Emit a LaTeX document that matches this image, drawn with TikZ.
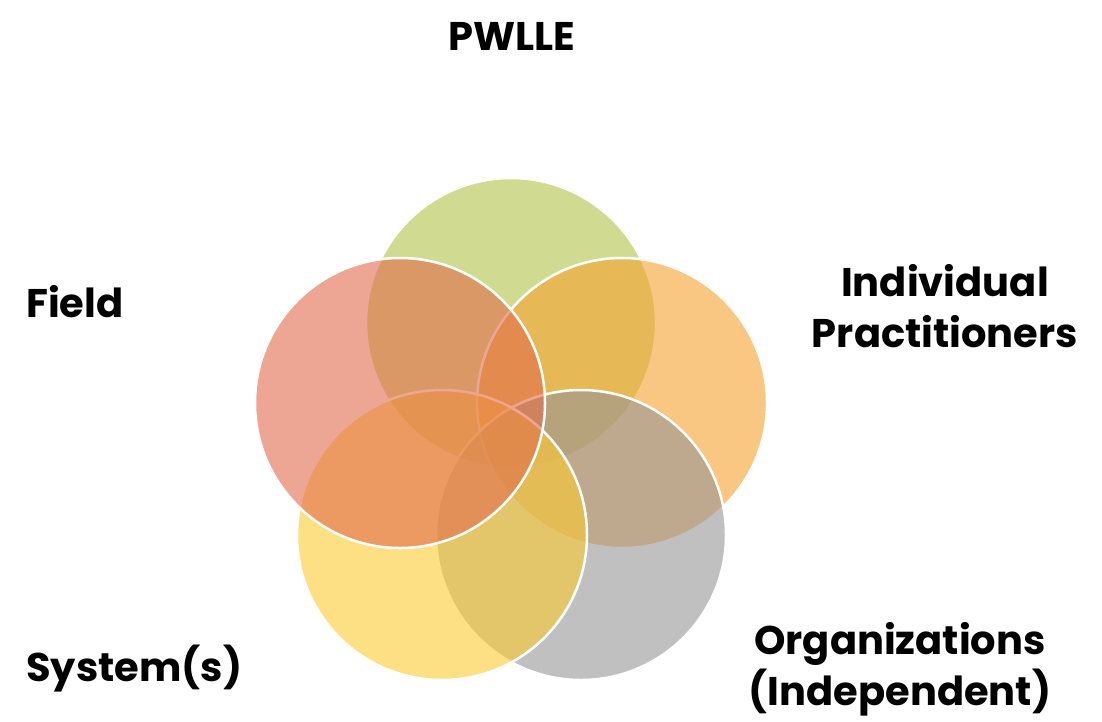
\documentclass[tikz,border=0pt]{standalone}
\usepackage{fontspec}
\newfontfamily\labfont{Poppins}
\definecolor{cgreen}{RGB}{178,195,73}
\definecolor{cred}{RGB}{225,108,75}
\definecolor{corange}{RGB}{247,162,47}
\definecolor{cgray}{RGB}{150,150,150}
\definecolor{cyellow}{RGB}{252,202,50}
\begin{document}
\begin{tikzpicture}[x=1pt,y=-1pt,
  circ/.style={circle, minimum size=290pt, inner sep=0pt, draw=white, line width=2.5pt, fill opacity=0.6},
  lab/.style={font=\labfont\bfseries\fontsize{40}{51}\selectfont, inner sep=0pt, text=black, align=center}]
\fill[white] (0,0) rectangle (1102,721);
\useasboundingbox (0,0) rectangle (1102,721);
\node[circ, fill=cgreen] (green) at (511,323) {};
\node[circ, fill=corange] (orange) at (622,403) {};
\node[circ, fill=cgray] (gray) at (581,535) {};
\node[circ, fill=cyellow] (yellow) at (442,535) {};
\node[circ, fill=cred] (red) at (400,403) {};
\node[lab, anchor=base] (pwlle) at (512,50) {PWLLE};
\node[lab, anchor=base west] (field) at (26,317) {Field};
\node[lab, anchor=base] (indiv) at (945,347) {Individual\\Practitioners};
\node[lab, anchor=base] (org) at (900,705) {Organizations\\(Independent)};
\node[lab, anchor=base west] (sys) at (26,681) {System(s)};
\end{tikzpicture}
\end{document}
